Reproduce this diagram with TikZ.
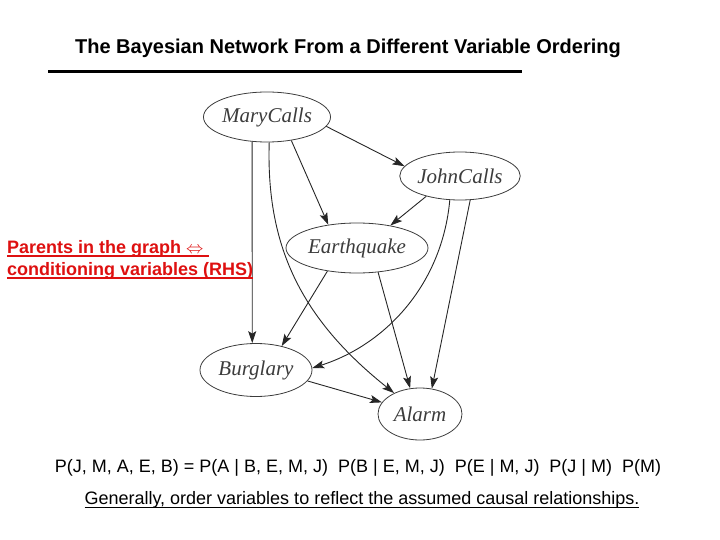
\documentclass[tikz,border=0pt]{standalone}
\usepackage{fontspec}
\setmainfont{Liberation Sans}
\newfontfamily\netfont{Liberation Serif}
\usetikzlibrary{shapes.geometric,arrows.meta}
\definecolor{notered}{RGB}{222,16,16}
\definecolor{netgray}{RGB}{60,60,60}
\newcommand\thickul[2]{\setbox0\hbox{#2}\rlap{\rule[-3.5pt]{\wd0}{#1}}\box0}

\begin{document}
\begin{tikzpicture}[x=1pt, y=1pt, >={Stealth[length=12pt,width=8pt,inset=2.5pt]},
  var/.style={ellipse, draw=netgray, line width=0.8pt, inner sep=0pt, text=netgray,
    font=\netfont\itshape\fontsize{21}{23}\selectfont},
  link/.style={->, draw=black!85, line width=0.9pt}]
  \useasboundingbox (0,0) rectangle (720,-540);
  % title and its rule
  \node (title) at (348,-48) {\fontsize{20}{22}\selectfont\bfseries The Bayesian Network From a Different Variable Ordering};
  \draw[line width=3pt] (48,-72) -- (522,-72);
  % the nodes
  \node[var, minimum width=126pt, minimum height=50pt] (mary) at (267,-117) {MaryCalls};
  \node[var, minimum width=120pt, minimum height=48pt] (john) at (460,-176) {JohnCalls};
  \node[var, minimum width=142pt, minimum height=50pt] (quake) at (357,-248) {Earthquake};
  \node[var, minimum width=112pt, minimum height=53pt] (burglary) at (256,-370) {Burglary};
  \node[var, minimum width=84pt, minimum height=52pt] (alarm) at (420,-414) {Alarm};
  % the links
  \draw[link] (mary.-9) -- (john.170);
  \draw[link] (mary.-44) -- (quake.141);
  \draw[link] (mary.-121) -- (burglary.98);
  \draw[link] (mary.-85) .. controls (266,-245) and (300,-318) .. (alarm.141);
  \draw[link] (john.-149) -- (quake.34);
  \draw[link] (john.-113) .. controls (442,-285) and (385,-345) .. (burglary.2);
  \draw[link] (john.-67) -- (alarm.65);
  \draw[link] (quake.-142) -- (burglary.43);
  \draw[link] (quake.-49) -- (alarm.111);
  \draw[link] (burglary.-12) -- (alarm.163);
  % side note
  \node[anchor=north west, align=left, text=notered, inner sep=0pt,
    font=\bfseries\fontsize{18}{22}\selectfont] (note) at (7,-240)
    {\thickul{1.8pt}{Parents in the graph $\Leftrightarrow$\ }\\ \thickul{1.8pt}{conditioning variables (RHS)}};
  % the factorisation
  \node (chain) at (358,-468) {\fontsize{18}{20}\selectfont P(J, M, A, E, B) = P(A | B, E, M, J)\ \ P(B | E, M, J)\ \ P(E | M, J)\ \ P(J | M)\ \ P(M)};
  \node (advice) at (362,-500) {\fontsize{18}{20}\selectfont\thickul{1.2pt}{Generally, order variables to reflect the assumed causal relationships.}};
\end{tikzpicture}
\end{document}
